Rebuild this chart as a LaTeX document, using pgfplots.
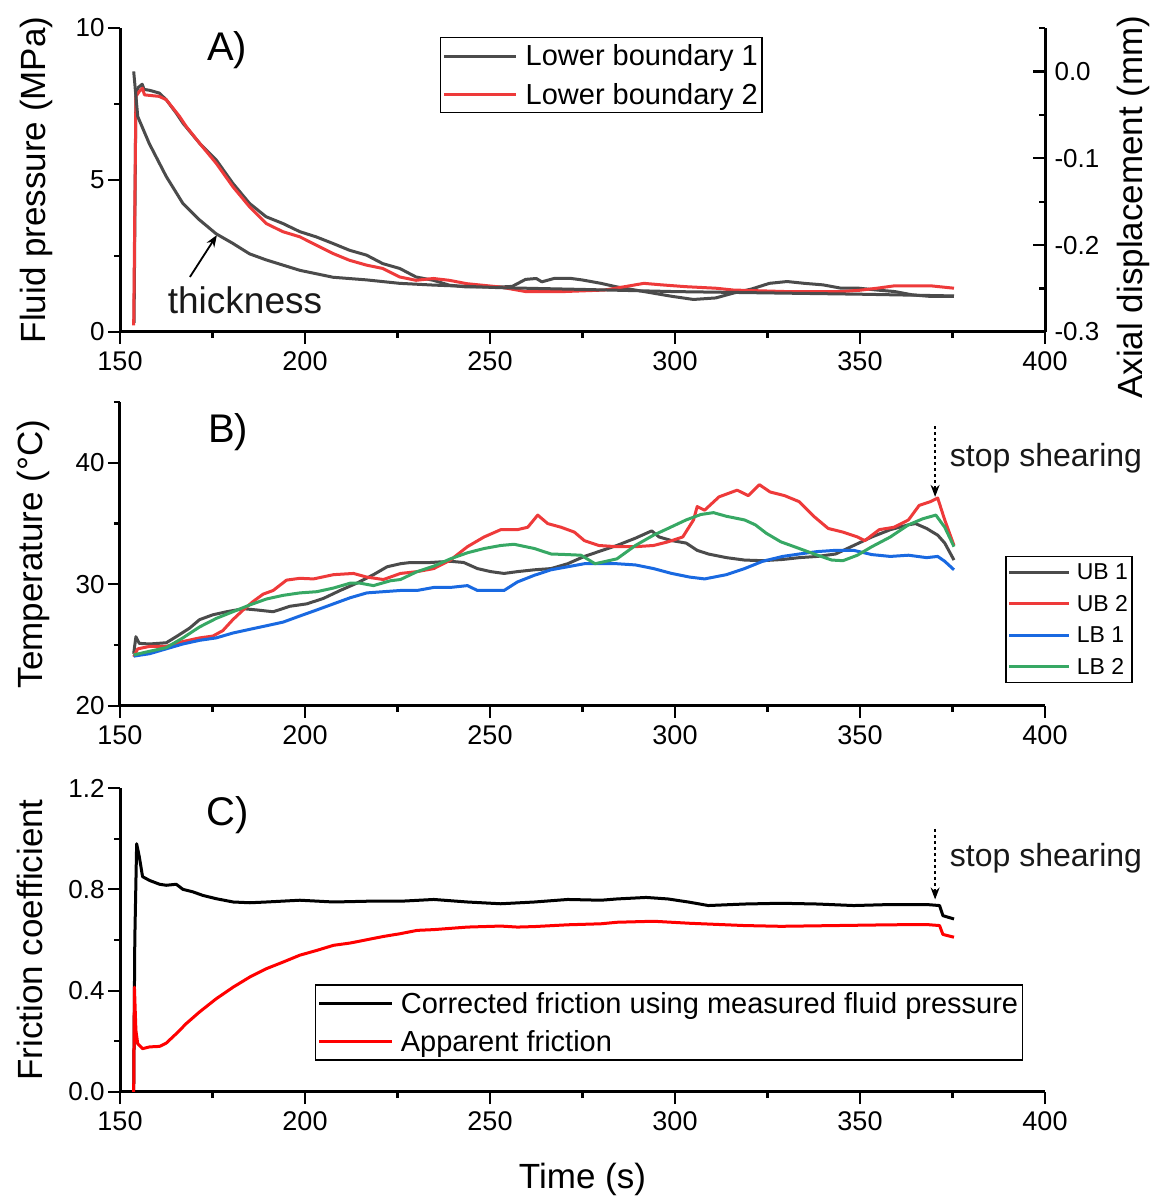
\documentclass[border=0pt]{standalone}
\usepackage{fontspec}
\setmainfont{Liberation Sans}
\usepackage{pgfplots}
\pgfplotsset{compat=1.18}
\usetikzlibrary{arrows.meta}

\definecolor{cgray}{RGB}{75,75,75}
\definecolor{cred}{RGB}{238,58,58}
\definecolor{cblue}{RGB}{25,105,225}
\definecolor{cgreen}{RGB}{55,168,100}

\pgfplotsset{
  panel/.style={
    scale only axis, width=925pt, height=304pt,
    xmin=150, xmax=400,
    axis x line*=bottom, axis y line*=left,
    axis line style={line width=3pt, -},
    xtick={150,200,...,400}, minor xtick={175,225,...,375},
    tick align=outside,
    major tick length=12pt, minor tick length=6pt,
    every tick/.style={line width=2.2pt, black},
    /pgf/number format/assume math mode=true,
    xticklabel style={font=\fontsize{27}{30}\selectfont, yshift=-4pt},
    yticklabel style={font=\fontsize{26}{30}\selectfont},
    label style={font=\fontsize{35}{40}\selectfont},
    scaled ticks=false,
    legend cell align=left,
  },
  dline/.style={line width=3pt, line join=round},
}

\begin{document}
\begin{tikzpicture}
\useasboundingbox (0,0) rectangle (1152pt,1199pt);

% ---------- A) fluid pressure ----------
\begin{axis}[panel, at={(120pt,867pt)}, anchor=south west,
  ymin=0, ymax=10, ytick={0,5,10}, minor ytick={2.5,7.5},
  ylabel={Fluid pressure (MPa)},
  ylabel style={at={(axis description cs:-0.0908,0.5)}, anchor=center},
  legend style={at={(axis description cs:0.346,0.970)}, anchor=north west,
    draw=black, line width=1.3pt, font=\fontsize{29}{34}\selectfont,
    inner xsep=2pt, inner ysep=5pt, row sep=12pt},
  legend image code/.code={\draw[#1] (0pt,0pt) -- (72pt,0pt); \path (78pt,0pt);},
]
\addplot[dline, cgray] coordinates {
(153.8,0.3) (154.3,7.9) (155.0,8.05) (156.0,8.15) (156.5,7.98) (158,7.95) (160.6,7.86)
(162.5,7.64) (165.2,7.2) (167,6.87) (171.5,6.21) (176,5.66) (180.5,4.89) (185,4.23)
(189.5,3.79) (194,3.57) (198.6,3.3) (203,3.13) (207.6,2.91) (212,2.69) (216.6,2.53)
(221,2.25) (225.6,2.09) (230,1.81) (234.7,1.70) (239,1.54) (243.7,1.48) (252.7,1.48)
(256,1.5) (259.6,1.73) (262.5,1.76) (264,1.65) (267.3,1.76) (272,1.76) (275,1.71)
(280,1.60) (284,1.49) (291.6,1.33) (299.3,1.17) (305,1.07) (311,1.12) (315.8,1.28)
(320.6,1.41) (325.5,1.60) (330.3,1.66) (335,1.60) (340,1.55) (344.9,1.44) (349.7,1.44)
(354.6,1.38) (359.4,1.33) (364.2,1.22) (369,1.17) (375.4,1.17)
};
\addlegendentry{Lower boundary 1}
\addplot[dline, cred] coordinates {
(153.7,0.22) (154.3,7.75) (155.2,7.91) (156.1,8.02) (156.6,7.8) (160.6,7.75) (162.5,7.64)
(166.1,7.09) (167.9,6.76) (171.5,6.21) (176,5.55) (180.5,4.78) (185,4.12) (189.5,3.57)
(194,3.3) (198.6,3.13) (203,2.86) (207.6,2.58) (212,2.36) (216.6,2.2) (221,2.09)
(225.6,1.81) (230,1.70) (234.7,1.76) (239,1.70) (243.7,1.59) (252.7,1.48) (259.6,1.33)
(270,1.33) (281,1.38) (284,1.44) (291.6,1.60) (296.4,1.55) (303,1.49) (311,1.44)
(315.8,1.38) (330,1.33) (345,1.33) (349.7,1.37) (354.6,1.44) (359.4,1.52) (369,1.52)
(375.4,1.44)
};
\addlegendentry{Lower boundary 2}
\draw[-{Stealth[length=12pt,width=9pt]}, line width=1.8pt, black] (axis cs:168.9,1.81) -- (axis cs:176.2,3.19);
\end{axis}

\begin{axis}[scale only axis, width=925pt, height=304pt,
  at={(120pt,867pt)}, anchor=south west,
  xmin=150, xmax=400, ymin=-0.3, ymax=0.05,
  axis x line=none, axis y line*=right,
  axis line style={line width=3pt, -},
  ytick={-0.3,-0.2,-0.1,0}, minor ytick={-0.25,-0.15,-0.05,0.05},
  tick align=inside, major tick length=12pt, minor tick length=6pt,
  every tick/.style={line width=2.2pt, black},
  /pgf/number format/assume math mode=true,
  scaled ticks=false,
  yticklabel style={font=\fontsize{26}{30}\selectfont, anchor=west, xshift=6pt,
    /pgf/number format/fixed, /pgf/number format/fixed zerofill,
    /pgf/number format/precision=1},
  ylabel={Axial displacement (mm)},
  ylabel style={font=\fontsize{35}{40}\selectfont, inner sep=0pt,
    at={(axis description cs:1.0955,0.411)}, anchor=center},
]
\addplot[dline, cgray] coordinates {
(153.7,0.0) (154.8,-0.052) (157.9,-0.083) (162.5,-0.121) (167,-0.152) (171.5,-0.171)
(176,-0.187) (180.5,-0.198) (185,-0.210) (189.5,-0.217) (198.6,-0.229) (207.6,-0.237)
(216.6,-0.240) (225.6,-0.244) (234.7,-0.246) (252.7,-0.249) (275,-0.251) (300,-0.2535)
(325,-0.255) (350,-0.2565) (375.4,-0.2585)
};
\end{axis}

% ---------- B) temperature ----------
\begin{axis}[panel, at={(120pt,493pt)}, anchor=south west,
  ymin=20, ymax=45, ytick={20,30,40}, minor ytick={25,35,45},
  ylabel={Temperature (°C)},
  ylabel style={at={(axis description cs:-0.094,0.5)}, anchor=center},
  legend style={at={(axis description cs:0.957,0.493)}, anchor=north west,
    draw=black, line width=1.3pt, font=\fontsize{23}{27}\selectfont,
    inner xsep=2pt, inner ysep=5pt, row sep=10pt},
  legend image code/.code={\draw[#1] (0pt,0pt) -- (60pt,0pt); \path (64pt,0pt);},
]
\addplot[dline, cgray] coordinates {
(153.7,24.3) (154.3,25.7) (155.2,25.15) (158,25.1) (162.5,25.2) (165.2,25.7) (168.8,26.4)
(171.5,27.1) (175.1,27.5) (178.8,27.75) (183.3,28.0) (186.9,27.9) (191.4,27.75) (195.9,28.2)
(200.5,28.4) (205,28.85) (209.5,29.5) (214,30.1) (218.5,30.8) (222.2,31.45) (225.8,31.7)
(228.5,31.8) (233.9,31.8) (239.3,31.9) (242.9,31.8) (246.6,31.3) (250.2,31.05) (253.8,30.9)
(257.4,31.05) (262,31.2) (266.5,31.3) (271,31.7) (275.5,32.3) (279.4,32.7) (284.3,33.2)
(289.3,33.8) (293.7,34.4) (295.7,33.9) (299.1,33.6) (303,33.4) (306,32.8) (309,32.5)
(313.9,32.2) (318.8,32.0) (323.7,31.95) (329.1,32.05) (333.6,32.2) (338.5,32.3) (343.4,32.5)
(348.3,33.2) (353.2,33.9) (358.2,34.5) (363.1,34.9) (365,35.0) (368,34.6) (371,34.05)
(372.9,33.4) (375.4,32.0)
};
\addlegendentry{UB 1}
\addplot[dline, cred] coordinates {
(153.7,24.05) (154.8,24.7) (158,24.9) (162.5,24.9) (167,25.3) (171.5,25.6) (175.1,25.75)
(177.8,26.2) (180.5,27.1) (183.3,27.9) (186,28.6) (188.7,29.2) (191.4,29.5) (195,30.35)
(198.6,30.5) (202.3,30.45) (207.7,30.8) (213.1,30.9) (216.7,30.6) (221.2,30.4) (225.8,30.9)
(230.3,31.05) (234.8,31.3) (239.3,32.0) (243.9,33.1) (248.4,33.9) (252.9,34.5) (257.4,34.5)
(260.2,34.7) (262.9,35.7) (265.6,35.0) (269.2,34.7) (272.8,34.3) (275.5,33.6) (279.4,33.2)
(284.3,33.1) (289.3,33.1) (294.2,33.2) (298.1,33.5) (302.1,33.9) (305,35.3) (306,36.4)
(308,36.1) (311.9,37.2) (316.8,37.75) (319.8,37.3) (322.8,38.2) (325.7,37.6) (329.6,37.3)
(333.6,36.8) (337.5,35.6) (341.4,34.6) (345.4,34.3) (349.3,33.9) (351.3,33.6) (355.2,34.5)
(359.2,34.7) (363.1,35.3) (366,36.5) (369,36.8) (371,37.1) (372.9,35.3) (375.4,33.2)
};
\addlegendentry{UB 2}
\addplot[dline, cblue] coordinates {
(153.7,24.1) (158,24.3) (162.5,24.7) (167,25.1) (171.5,25.4) (176,25.6) (180.5,26.0)
(185,26.3) (189.6,26.6) (194.1,26.9) (198.6,27.4) (203.2,27.9) (207.7,28.4) (212.2,28.9)
(216.7,29.3) (221.2,29.4) (225.8,29.5) (230.3,29.5) (234.8,29.75) (239.3,29.75) (243.9,29.9)
(246.6,29.5) (250.2,29.5) (253.8,29.5) (257.4,30.2) (262,30.75) (266.5,31.2) (271,31.45)
(275.5,31.7) (284.3,31.7) (289.3,31.6) (294.2,31.3) (299.1,30.9) (304,30.6) (308,30.45)
(313.9,30.8) (318.8,31.3) (323.7,31.9) (329.1,32.3) (333.6,32.5) (338.5,32.7) (343.4,32.8)
(348.3,32.8) (353.2,32.45) (358.2,32.3) (363.1,32.4) (368,32.2) (371,32.3) (372.9,31.9)
(375.4,31.2)
};
\addlegendentry{LB 1}
\addplot[dline, cgreen] coordinates {
(153.7,24.2) (158,24.5) (162.5,24.8) (167,25.6) (171.5,26.5) (176,27.2) (180.5,27.75)
(185,28.3) (189.6,28.8) (194.1,29.1) (198.6,29.3) (203.2,29.4) (207.7,29.7) (212.2,30.1)
(214.9,30.1) (218.5,29.9) (223.1,30.3) (225.8,30.4) (230.3,31.05) (234.8,31.5) (239.3,32.1)
(243.9,32.6) (248.4,32.95) (252.9,33.2) (256.5,33.3) (262,32.95) (266.5,32.5) (271,32.45)
(274.6,32.4) (278.4,31.7) (284.3,32.1) (289.3,33.2) (294.2,34.05) (298.1,34.6) (303,35.3)
(307,35.75) (310.4,35.9) (313.9,35.6) (318.8,35.3) (321.7,34.9) (324.7,34.2) (328.6,33.5)
(333.6,32.95) (338.5,32.4) (342.4,32.0) (345.4,31.95) (349.3,32.4) (353.2,33.1) (358.2,33.9)
(363.1,34.9) (367,35.4) (370.5,35.7) (372.9,34.7) (375.4,33.1)
};
\addlegendentry{LB 2}
\draw[-{Stealth[length=12pt,width=9pt]}, line width=1.5pt, dashed, black] (axis cs:370.3,43.0) -- (axis cs:370.3,37.2);
\end{axis}

% ---------- C) friction ----------
\begin{axis}[panel, at={(120pt,107pt)}, anchor=south west,
  ymin=0, ymax=1.2, ytick={0,0.4,0.8,1.2}, minor ytick={0.2,0.6,1.0},
  yticklabel style={/pgf/number format/fixed, /pgf/number format/fixed zerofill,
    /pgf/number format/precision=1},
  ylabel={Friction coefficient},
  ylabel style={at={(axis description cs:-0.097,0.5)}, anchor=center},
  xlabel={Time (s)},
  xlabel style={at={(axis description cs:0.5,-0.2885)}, anchor=center},
  legend style={at={(axis description cs:0.211,0.354)}, anchor=north west,
    draw=black, line width=1.3pt, font=\fontsize{29}{34}\selectfont,
    inner xsep=2pt, inner ysep=5pt, row sep=12pt},
  legend image code/.code={\draw[#1] (0pt,0pt) -- (73pt,0pt); \path (78pt,0pt);},
]
\addplot[dline, black] coordinates {
(153.7,0) (154.0,0.6) (154.5,0.98) (155.2,0.93) (156.1,0.85) (158,0.835) (160.7,0.82)
(162.5,0.816) (165.2,0.82) (167,0.80) (169.7,0.79) (172.4,0.776) (176,0.763) (180.6,0.75)
(185.1,0.747) (189.6,0.75) (198.6,0.757) (207.7,0.75) (216.7,0.753) (225.8,0.753)
(234.8,0.76) (243.9,0.75) (252.9,0.743) (262,0.75) (271,0.76) (280,0.757) (284.3,0.762)
(292.2,0.768) (298.1,0.762) (304,0.749) (309,0.736) (318.8,0.742) (328.6,0.745)
(338.5,0.742) (348.3,0.736) (358.2,0.74) (368,0.74) (371.5,0.736) (372.4,0.696) (375.4,0.683)
};
\addlegendentry{Corrected friction using measured fluid pressure}
\addplot[dline, red] coordinates {
(153.7,0) (153.9,0.414) (154.3,0.243) (154.8,0.19) (156.1,0.171) (158,0.178) (160.7,0.18)
(162.5,0.193) (165.2,0.23) (167.9,0.27) (171.5,0.316) (176,0.368) (180.6,0.414)
(185.1,0.454) (189.6,0.487) (194.1,0.513) (198.6,0.54) (203.2,0.559) (207.7,0.579)
(212.2,0.588) (216.7,0.601) (221.2,0.614) (225.8,0.625) (230.3,0.638) (234.8,0.641)
(243.9,0.651) (252.9,0.655) (257.4,0.651) (262,0.653) (271,0.66) (280,0.664) (284.3,0.67)
(294.2,0.674) (304,0.666) (318.8,0.657) (328.6,0.654) (343.4,0.657) (358.2,0.66)
(368,0.661) (371.5,0.657) (372.4,0.622) (375.4,0.611)
};
\addlegendentry{Apparent friction}
\draw[-{Stealth[length=12pt,width=9pt]}, line width=1.5pt, dashed, black] (axis cs:370.3,1.039) -- (axis cs:370.3,0.76);
\end{axis}

% ---------- annotations ----------
\node[font=\fontsize{40}{44}\selectfont] at (227pt,1149pt) {A)};
\node[font=\fontsize{40}{44}\selectfont] at (228pt,767pt) {B)};
\node[font=\fontsize{40}{44}\selectfont] at (228pt,384pt) {C)};
\node[font=\fontsize{37}{42}\selectfont, text=black!90] at (245pt,899pt) {thickness};
\node[font=\fontsize{32}{36}\selectfont, text=black!90] at (1046pt,741pt) {stop shearing};
\node[font=\fontsize{32}{36}\selectfont, text=black!90] at (1046pt,341pt) {stop shearing};
\end{tikzpicture}
\end{document}
